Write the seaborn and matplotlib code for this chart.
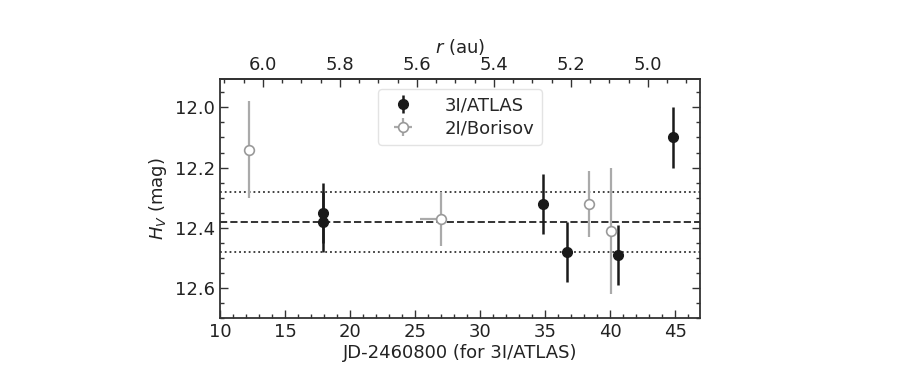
import numpy as np
import matplotlib
matplotlib.use("Agg")
import matplotlib.pyplot as plt
import seaborn as sns
from matplotlib.ticker import MultipleLocator

# 3I/ATLAS
atlas_jd = [17.9, 17.9, 34.8, 36.7, 40.6, 44.8]
atlas_hv = [12.35, 12.38, 12.32, 12.48, 12.49, 12.10]
atlas_err = [0.10, 0.10, 0.10, 0.10, 0.10, 0.10]

# 2I/Borisov
borisov_jd = [12.2, 27.0, 38.4, 40.1]
borisov_hv = [12.14, 12.37, 12.32, 12.41]
borisov_err = [0.16, 0.09, 0.11, 0.21]
borisov_xlo = [0.0, 1.6, 0.0, 0.0]
borisov_xhi = [0.0, 0.0, 0.0, 0.0]

hv_mean = 12.38
hv_sigma = 0.10

sns.set_theme(style="ticks")
plt.rcParams['font.family'] = ['DejaVu Sans']

fig = plt.figure(figsize=(8.97, 3.79), dpi=100)
ax = fig.add_axes([0.2453, 0.161, 0.535, 0.631])

ax.axhline(hv_mean, color="#333333", ls="--", lw=1.4, zorder=1)
ax.axhline(hv_mean - hv_sigma, color="#333333", ls=":", lw=1.3, zorder=1)
ax.axhline(hv_mean + hv_sigma, color="#333333", ls=":", lw=1.3, zorder=1)

ax.errorbar(atlas_jd, atlas_hv, yerr=atlas_err, fmt="o", color="#1a1a1a",
            ms=7, elinewidth=1.8, capsize=0, label="3I/ATLAS", zorder=3)
ax.errorbar(borisov_jd, borisov_hv, yerr=borisov_err,
            xerr=[borisov_xlo, borisov_xhi], fmt="o", color="#aaaaaa",
            mfc="white", mec="#999999", mew=1.2, ms=7, elinewidth=1.6,
            capsize=0, label="2I/Borisov", zorder=3)

ax.set_xlim(10, 46.9)
ax.set_ylim(12.70, 11.905)
ax.xaxis.set_major_locator(MultipleLocator(5))
ax.xaxis.set_minor_locator(MultipleLocator(1))
ax.yaxis.set_major_locator(MultipleLocator(0.2))
ax.yaxis.set_minor_locator(MultipleLocator(0.05))
ax.tick_params(which="both", direction="in", right=True, labelsize=13, colors="#333333",
               labelcolor="#222222")
ax.tick_params(which="major", length=6, width=1)
ax.tick_params(which="minor", length=3, width=1)
ax.set_xlabel("JD-2460800 (for 3I/ATLAS)", fontsize=13, color="#222222", labelpad=2)
ax.set_ylabel("$H_V$ (mag)", fontsize=13, color="#222222")
for s in ax.spines.values():
    s.set_color("#333333")
    s.set_linewidth(1.3)


def jd2r(jd):
    return 6.0 - (np.asarray(jd) - 13.3) / 29.6


def r2jd(r):
    return 13.3 + (6.0 - np.asarray(r)) * 29.6


top = ax.secondary_xaxis("top", functions=(jd2r, r2jd))
top.xaxis.set_major_locator(MultipleLocator(0.2))
top.xaxis.set_minor_locator(MultipleLocator(0.05))
top.tick_params(which="both", direction="in", labelsize=13, colors="#333333",
                labelcolor="#222222")
top.tick_params(which="major", length=6, width=1)
top.tick_params(which="minor", length=3, width=1)
top.set_xlabel("$r$ (au)", fontsize=13, color="#222222", labelpad=2)
top.spines["top"].set_color("#333333")
top.spines["top"].set_linewidth(1.3)

leg = ax.legend(loc="upper center", bbox_to_anchor=(0.5, 0.995), fontsize=13,
                frameon=True, handletextpad=1.3, borderpad=0.4, labelspacing=0.3)
leg.get_frame().set_edgecolor("#dddddd")

fig.savefig("out.png", dpi=100)
